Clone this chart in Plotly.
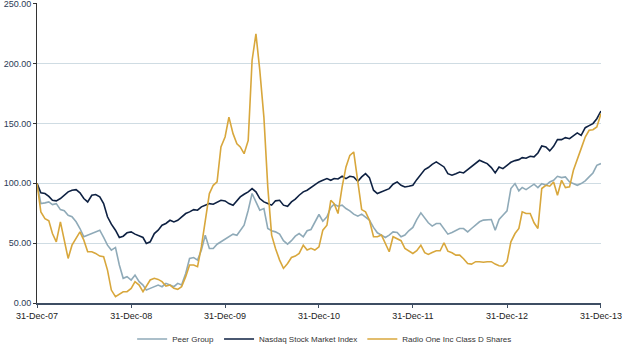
import calendar
import datetime as dt
import plotly.graph_objects as go

# Semi-monthly observation dates (15th and month end), 31-Dec-07 .. 31-Dec-13
dates = [dt.date(2007, 12, 31)]
for yr in range(2008, 2014):
    for mo in range(1, 13):
        dates.append(dt.date(yr, mo, 15))
        dates.append(dt.date(yr, mo, calendar.monthrange(yr, mo)[1]))

peer_group = [
    100, 83, 83.6, 84.4, 82.2, 83, 78, 77, 73.3, 72, 67.8, 62.2, 55.3, 56.7, 58, 59.4,
    60.8, 54.7, 48.3, 44.2, 46.4, 31.7, 20.6, 22, 19.2, 23.3, 17.8, 15, 10.8, 12.2,
    13.6, 15, 13.6, 16.4, 15, 13.6, 16.4, 15, 24.7, 37.2, 38, 35.8, 44.2, 56.6, 45.5,
    45.5, 49.1, 51.1, 53.9, 55.8, 57.5, 56.6, 60.8, 65, 77.5, 91.4, 84.4, 77.5, 78.9,
    62.2, 60.3, 59.4, 57.5, 52, 49.2, 52, 55.8, 58, 55.3, 60.3, 61.4, 67.8, 73.9, 68.3,
    71.9, 79.7, 82.5, 80.8, 81.7, 78.9, 77, 74.2, 72.5, 74.2, 72, 69.2, 63.1, 58.6,
    56.7, 54.7, 56.7, 59.4, 58.9, 55.3, 56.7, 60.3, 63.1, 69.7, 75.3, 70.6, 67, 64.2,
    66.4, 66.4, 62.2, 57.5, 58.9, 60.8, 62.2, 62.2, 59.4, 62.2, 65, 67.8, 69.2, 69.2,
    69.7, 60.8, 69.7, 73.3, 77, 95.6, 99.7, 93.6, 96.4, 94.7, 97, 99.2, 96.4, 99.7,
    98.3, 101.1, 102.5, 105.8, 104.7, 105.3, 101.1, 99.7, 98.3, 99.7, 102, 105.3,
    108.6, 115, 116.4,
]

nasdaq = [
    100, 92, 91.4, 89, 85.8, 85.3, 87.2, 90, 92.8, 94.2, 94.7, 92, 87.2, 84.4, 90, 90.6,
    88.6, 83, 72, 65.8, 60.8, 54.7, 55.8, 58.6, 59.4, 57.5, 55.8, 54.7, 49.7, 51.1, 58,
    60.8, 65, 66.4, 69.1, 67.7, 69.1, 71.9, 74.7, 76.1, 78, 77.5, 80.3, 81.6, 83, 82.5,
    84.4, 85.8, 85.2, 83, 81.6, 85.8, 88.6, 90.8, 92.8, 95.5, 92.8, 87.2, 84.4, 83,
    81.7, 85.3, 85.8, 81.7, 80.8, 84.4, 86.7, 90, 92.8, 94.2, 96.4, 98.9, 101.1, 102.5,
    103.9, 102.5, 103.9, 103.6, 105.8, 103.9, 105.8, 105.3, 101.7, 105.3, 108, 104.7,
    94.2, 91.4, 92.8, 94.2, 95.5, 99.2, 101.1, 98.3, 96.9, 97.5, 98.3, 103, 107.5,
    111.4, 113.1, 115.8, 117.8, 115.8, 113.6, 108, 106.7, 108, 109.4, 108.6, 111.4,
    113.6, 117, 119.2, 117.8, 116.4, 113.1, 108.6, 113.6, 112.2, 115, 117.5, 118.9,
    119.7, 121.4, 120.9, 122.5, 122, 125.3, 131.1, 130.3, 127, 130.8, 136.4, 136.4,
    138.1, 137.2, 140, 142, 140, 146.4, 148.1, 149.8, 153.9, 160.3,
]

radio_one = [
    100, 76, 70.5, 68.6, 58, 51, 67.8, 51, 37.2, 48.3, 54.7, 59.4, 52.5, 42.8, 42.8,
    41.4, 39.2, 38.6, 27.5, 10.8, 5.3, 7.5, 9.4, 9.4, 12.2, 17.8, 15, 9.4, 13.6, 19.2,
    20.6, 19.7, 17.8, 14.2, 15, 12.2, 11.4, 13.6, 22, 31.7, 31.7, 30.3, 47, 69.1, 91.4,
    98.3, 101.1, 130.3, 138.6, 155.2, 141.4, 133, 130.3, 124.7, 135.8, 202.5, 224.7,
    194.2, 155, 97, 56.7, 45.6, 35.8, 28.9, 33, 38, 39.2, 41.4, 48.3, 44.2, 45.6, 44.2,
    46.9, 60.8, 65, 85.8, 83, 74.7, 97, 113.6, 123.3, 126.1, 99.7, 78, 76.1, 69.2, 55.3,
    55.3, 56.7, 49.2, 42.8, 55.3, 53.9, 52, 45.6, 43.3, 41.4, 43.6, 48.3, 42, 40.6,
    42.2, 43.6, 43.6, 50.3, 43.3, 42, 40, 40, 37, 33, 32.5, 34.5, 34.5, 34, 34.5, 34.5,
    32.5, 31.1, 30.8, 34.5, 51.1, 58, 62.2, 76.1, 74.7, 74.7, 67, 62.2, 95.6, 98.3,
    97.5, 101.1, 90, 102.5, 96.4, 97, 110.8, 119.2, 128.9, 138.6, 144.2, 144.7, 147, 158,
]

series_names = ["Peer Group", "Nasdaq Stock Market Index", "Radio One Inc Class D Shares"]
series_colors = ["#8FAAB8", "#0E2142", "#D8A73C"]

x_tick_dates = ["2007-12-31", "2008-12-31", "2009-12-31", "2010-12-31",
                "2011-12-31", "2012-12-31", "2013-12-31"]
x_tick_labels = ["31-Dec-07", "31-Dec-08", "31-Dec-09", "31-Dec-10",
                 "31-Dec-11", "31-Dec-12", "31-Dec-13"]
y_tick_vals = [0, 50, 100, 150, 200, 250]
y_tick_labels = ["0.00", "50.00", "100.00", "150.00", "200.00", "250.00"]

fig = go.Figure()
for name, vals, col in zip(series_names, [peer_group, nasdaq, radio_one], series_colors):
    fig.add_trace(go.Scatter(
        x=dates, y=vals, mode="lines", name=name,
        line=dict(color=col, width=1.6),
    ))

font_family = "Liberation Sans, Arial, sans-serif"
fig.update_layout(
    width=622, height=346,
    margin=dict(l=37, r=21, t=3, b=43, autoexpand=False),
    paper_bgcolor="white", plot_bgcolor="white",
    font=dict(family=font_family, size=9, color="#333333"),
    showlegend=True,
    legend=dict(orientation="h", x=0.51, xanchor="center", y=-0.12, yanchor="middle",
                font=dict(size=8, color="#333333"), itemwidth=30,
                bgcolor="rgba(0,0,0,0)"),
    xaxis=dict(
        type="date", range=["2007-12-31", "2013-12-31 06:00"],
        tickvals=x_tick_dates, ticktext=x_tick_labels,
        showgrid=False, zeroline=False,
        showline=True, linecolor="#3E4E63", linewidth=1.5,
        ticks="outside", ticklen=3, tickcolor="#3E4E63",
        tickfont=dict(size=9, color="#222222"),
        ticklabeloverflow="allow",
    ),
    yaxis=dict(
        range=[0, 250.5], tickvals=y_tick_vals, ticktext=y_tick_labels,
        showgrid=True, gridcolor="#CFDCE3", gridwidth=1,
        zeroline=False,
        showline=True, linecolor="#333333", linewidth=1,
        ticks="outside", ticklen=3, tickcolor="#333333",
        tickfont=dict(size=9, color="#2B3A55"),
        ticklabeloverflow="allow",
    ),
)

fig.write_html("out.html")
